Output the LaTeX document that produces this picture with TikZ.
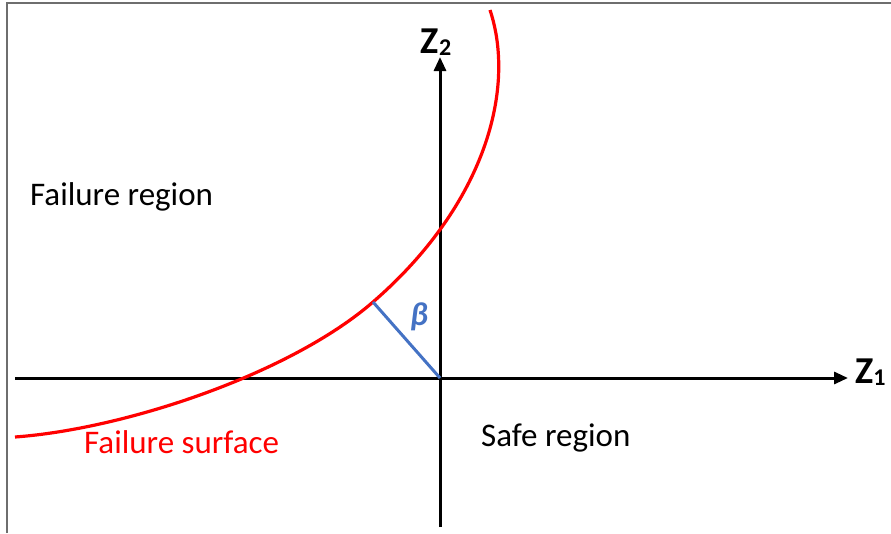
\documentclass[tikz,border=0pt]{standalone}
\usepackage{fontspec}
\setmainfont{Carlito}
\usepackage{xcolor}
\usetikzlibrary{arrows.meta}

\definecolor{betablue}{RGB}{68,114,196}
\definecolor{framegray}{RGB}{110,110,110}

\newcommand{\axlabel}[1]{Z\raisebox{-2pt}{\fontsize{24}{26}\selectfont #1}}

\begin{document}
\begin{tikzpicture}[x=1pt, y=-1pt,
    axis/.style={line width=3pt, -{Triangle[length=14pt,width=12pt]}},
    every node/.style={font=\fontsize{33}{36}\selectfont, inner sep=0pt}]
  \useasboundingbox (0,0) rectangle (891,533);
  % frame
  \draw[framegray, line width=2pt] (7,533) -- (7,3) -- (891,3);
  % axes
  \coordinate (origin) at (440,378);
  \coordinate (xstart) at (15,378);
  \coordinate (xend)   at (848,378);
  \coordinate (ystart) at (440,527);
  \coordinate (yend)   at (440,57);
  \draw[axis] (xstart) -- (xend);
  \draw[axis] (ystart) -- (yend);
  \node[anchor=west, font=\fontsize{38}{40}\selectfont\bfseries] (z1) at (855,372) {\axlabel{1}};
  \node[font=\fontsize{38}{40}\selectfont\bfseries] (z2) at (436,42) {\axlabel{2}};
  % failure surface
  \coordinate (foot) at (373,302);
  \draw[red, line width=3.2pt]
    (15,437) .. controls (125,429) and (290,374) .. (foot)
             .. controls (486,204) and (516,88) .. (490,10);
  \draw[betablue, line width=3pt] (foot) -- (origin);
  \node[text=betablue] (beta) at (419,317) {\textbf{\textit{β}}};
  % labels
  \node[anchor=west] (failreg) at (30,197) {Failure region};
  \node[anchor=west, text=red] (failsurf) at (84,442) {Failure surface};
  \node[anchor=west] (safereg) at (481,438) {Safe region};
\end{tikzpicture}
\end{document}
